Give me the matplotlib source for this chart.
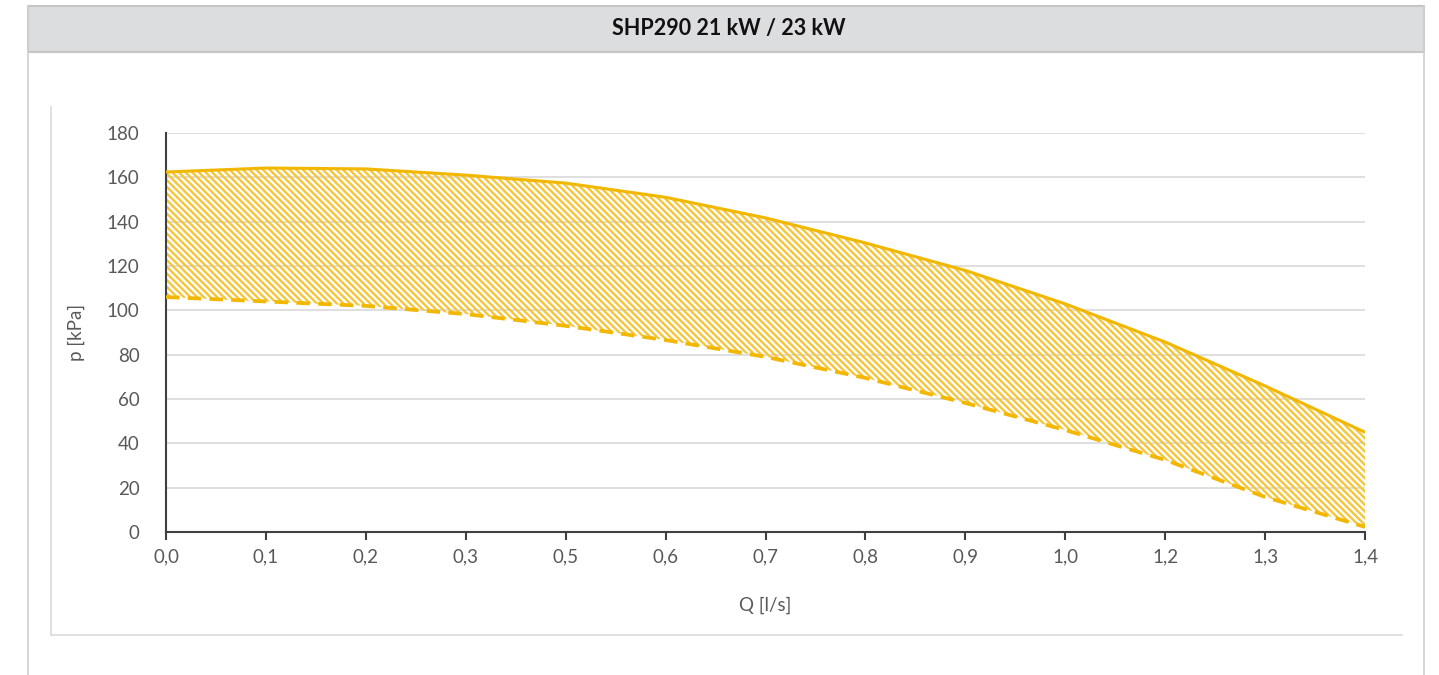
import matplotlib
matplotlib.use("Agg")
import matplotlib.pyplot as plt
from matplotlib.patches import Rectangle
from matplotlib.lines import Line2D

plt.rcParams['font.family'] = ['Lato', 'DejaVu Sans']
plt.rcParams['hatch.linewidth'] = 1.7

title = "SHP290 21 kW / 23 kW"
q_labels = ["0,0", "0,1", "0,2", "0,3", "0,5", "0,6", "0,7", "0,8", "0,9", "1,0", "1,2", "1,3", "1,4"]
p_max = [162.4, 164.2, 163.8, 161.0, 157.4, 151.0, 141.7, 130.4, 118.0, 102.9, 85.7, 65.9, 45.0]
p_min = [106.0, 104.0, 102.0, 98.3, 93.0, 86.6, 79.0, 69.5, 58.2, 46.0, 32.5, 15.8, 2.3]
y_ticks = [0, 20, 40, 60, 80, 100, 120, 140, 160, 180]

W, H = 1439, 675
fig = plt.figure(figsize=(W / 100, H / 100), dpi=100)
fig.patch.set_facecolor("white")

def fx(x):
    return x / W

def fy(y):
    return 1 - y / H

# outer panel borders
fig.add_artist(Line2D([fx(28), fx(28)], [fy(6), fy(675)], color="#d0d0d0", lw=1.2))
fig.add_artist(Line2D([fx(1424), fx(1424)], [fy(6), fy(675)], color="#d0d0d0", lw=1.2))
# header band
fig.add_artist(Rectangle((fx(28), fy(52)), fx(1424) - fx(28), fy(6) - fy(52),
                         facecolor="#dcdddf", edgecolor="#c4c5c7", lw=1.5))
fig.text(fx(729), fy(28), title, ha="center", va="center", fontsize=15.5,
         fontweight="bold", color="#111111")
# inner chart frame
fig.add_artist(Line2D([fx(51), fx(51)], [fy(107), fy(635)], color="#dadada", lw=1.2))
fig.add_artist(Line2D([fx(51), fx(1402)], [fy(635), fy(635)], color="#dadada", lw=1.2))

ax = fig.add_axes([fx(166), fy(532), fx(1365) - fx(166), fy(133) - fy(532)])
ax.set_facecolor("none")
x = list(range(len(q_labels)))

gold = "#f2b700"
ax.fill_between(x, p_min, p_max, facecolor="none", edgecolor="#f5c53a",
                hatch="\\\\\\\\\\", linewidth=0, zorder=2)
ax.plot(x, p_max, color=gold, lw=2.2, zorder=3, solid_capstyle="butt")
ax.plot(x, p_min, color=gold, lw=2.7, ls=(0, (3.6, 2.2)), zorder=3)

ax.set_xlim(0, len(q_labels) - 1)
ax.set_ylim(0, 180)
ax.set_yticks(y_ticks)
ax.set_yticklabels([str(v) for v in y_ticks])
ax.set_xticks(x)
ax.set_xticklabels(q_labels)
ax.yaxis.grid(True, color="#d9d9d9", lw=1.2)
ax.set_axisbelow(True)
for s in ["top", "right"]:
    ax.spines[s].set_visible(False)
for s in ["left", "bottom"]:
    ax.spines[s].set_color("#404040")
    ax.spines[s].set_linewidth(1.5)
ax.tick_params(axis="y", length=0, pad=19, labelsize=13.5, labelcolor="#595959")
ax.tick_params(axis="x", length=6, width=1.5, color="#404040", direction="out",
               pad=6, labelsize=13.5, labelcolor="#595959")
ax.set_xlabel("Q [l/s]", fontsize=13.5, color="#595959", labelpad=22)
ax.set_ylabel("p [kPa]", fontsize=13.5, color="#595959", labelpad=16)

fig.savefig("out.png", dpi=100)
